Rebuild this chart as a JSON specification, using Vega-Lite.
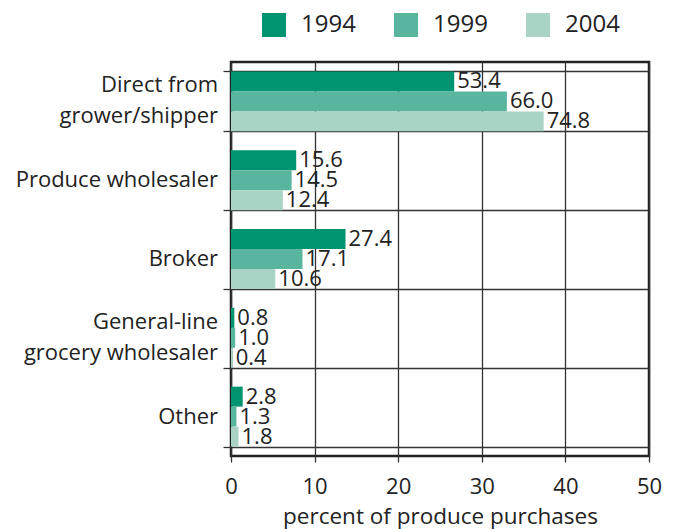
{
  "$schema": "https://vega.github.io/schema/vega-lite/v6.json",
  "autosize": {"type": "none"},
  "width": 418,
  "height": 394,
  "padding": {"left": 231, "top": 62, "right": 24, "bottom": 73},
  "background": "white",
  "data": {
    "values": [
      {"category": "Direct from\ngrower/shipper", "year": "1994", "pct": 53.4, "bar": 26.7},
      {"category": "Direct from\ngrower/shipper", "year": "1999", "pct": 66.0, "bar": 33.0},
      {"category": "Direct from\ngrower/shipper", "year": "2004", "pct": 74.8, "bar": 37.4},
      {"category": "Produce wholesaler", "year": "1994", "pct": 15.6, "bar": 7.8},
      {"category": "Produce wholesaler", "year": "1999", "pct": 14.5, "bar": 7.25},
      {"category": "Produce wholesaler", "year": "2004", "pct": 12.4, "bar": 6.2},
      {"category": "Broker", "year": "1994", "pct": 27.4, "bar": 13.7},
      {"category": "Broker", "year": "1999", "pct": 17.1, "bar": 8.55},
      {"category": "Broker", "year": "2004", "pct": 10.6, "bar": 5.3},
      {"category": "General-line\ngrocery wholesaler", "year": "1994", "pct": 0.8, "bar": 0.4},
      {"category": "General-line\ngrocery wholesaler", "year": "1999", "pct": 1.0, "bar": 0.5},
      {"category": "General-line\ngrocery wholesaler", "year": "2004", "pct": 0.4, "bar": 0.2},
      {"category": "Other", "year": "1994", "pct": 2.8, "bar": 1.4},
      {"category": "Other", "year": "1999", "pct": 1.3, "bar": 0.65},
      {"category": "Other", "year": "2004", "pct": 1.8, "bar": 0.9}
    ]
  },
  "encoding": {
    "y": {
      "field": "category",
      "type": "nominal",
      "sort": null,
      "scale": {"paddingInner": 0.24, "paddingOuter": 0.12},
      "axis": {
        "title": null,
        "tickBand": "extent",
        "grid": true,
        "gridColor": "#333",
        "gridWidth": 1.3,
        "tickColor": "#333",
        "tickWidth": 1.3,
        "tickSize": 8,
        "labels": false
      }
    }
  },
  "layer": [
    {
      "mark": {"type": "bar"},
      "encoding": {
        "yOffset": {
          "field": "year",
          "type": "nominal",
          "scale": {"paddingInner": 0, "paddingOuter": 0}
        },
        "x": {
          "field": "bar",
          "type": "quantitative",
          "scale": {"domain": [0, 50], "nice": false},
          "axis": {
            "title": "percent of produce purchases",
            "values": [0, 10, 20, 30, 40, 50],
            "grid": true,
            "gridColor": "#333",
            "gridWidth": 1.3,
            "tickColor": "#333",
            "tickWidth": 1.3,
            "tickSize": 6,
            "labelFontSize": 22,
            "labelColor": "#222",
            "labelPadding": 14,
            "labelFlush": false,
            "titleFontSize": 22.5,
            "titleFontWeight": "normal",
            "titleColor": "#222",
            "titlePadding": 8
          }
        },
        "color": {
          "field": "year",
          "type": "nominal",
          "scale": {"domain": ["1994", "1999", "2004"], "range": ["#009470", "#5ab59e", "#a9d4c5"]},
          "legend": {
            "title": null,
            "orient": "none",
            "direction": "horizontal",
            "legendX": 31,
            "legendY": -49,
            "symbolType": "square",
            "symbolSize": 576,
            "symbolStrokeWidth": 0,
            "symbolOpacity": 1,
            "labelFontSize": 24,
            "labelColor": "#222",
            "labelOffset": 15,
            "columnPadding": 38
          }
        }
      }
    },
    {
      "mark": {"type": "text", "align": "left", "baseline": "middle", "dx": 3, "fontSize": 22, "color": "#222"},
      "encoding": {
        "yOffset": {
          "field": "year",
          "type": "nominal",
          "scale": {"paddingInner": 0, "paddingOuter": 0}
        },
        "x": {"field": "bar", "type": "quantitative"},
        "text": {"field": "pct", "type": "quantitative", "format": ".1f"}
      }
    },
    {
      "transform": [{"filter": {"field": "category", "oneOf": ["Produce wholesaler", "Broker", "Other"]}}, {"filter": {"field": "year", "equal": "1999"}}],
      "mark": {"type": "text", "align": "right", "baseline": "middle", "dx": -13, "fontSize": 22, "color": "#222"},
      "encoding": {
        "x": {"datum": 0},
        "text": {"field": "category", "type": "nominal"}
      }
    },
    {
      "transform": [{"filter": {"field": "category", "oneOf": ["Direct from\ngrower/shipper", "General-line\ngrocery wholesaler"]}}, {"filter": {"field": "year", "equal": "1999"}}],
      "mark": {"type": "text", "align": "right", "baseline": "line-bottom", "lineBreak": "\n", "lineHeight": 31, "dx": -13, "fontSize": 22, "color": "#222"},
      "encoding": {
        "x": {"datum": 0},
        "text": {"field": "category", "type": "nominal"}
      }
    }
  ],
  "config": {
    "font": "Open Sans",
    "view": {"stroke": "#222", "strokeWidth": 2.5},
    "axis": {"domain": false}
  }
}
